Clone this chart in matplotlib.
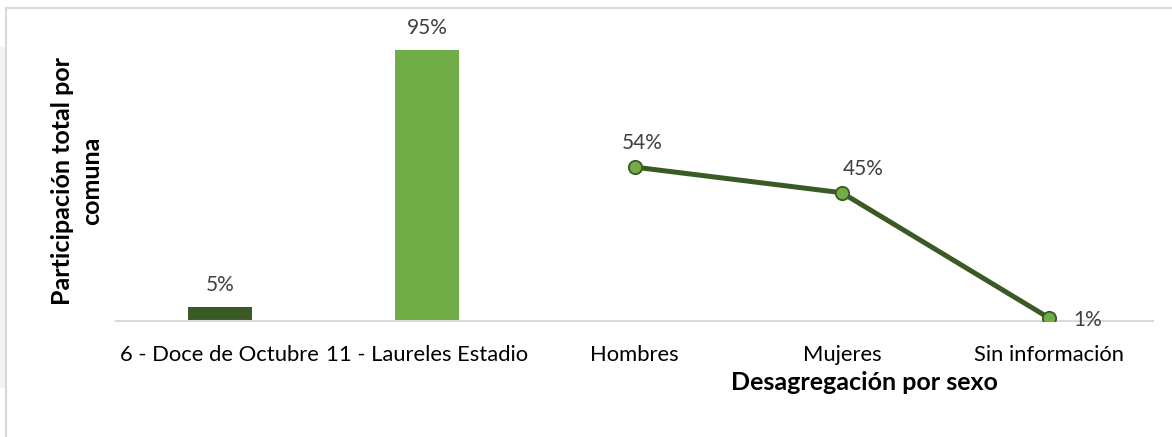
import matplotlib.pyplot as plt
import matplotlib.patches as mpatches

categories = ["6 - Doce de Octubre", "11 - Laureles Estadio", "Hombres", "Mujeres", "Sin información"]
comuna_values = [5, 95]
sexo_values = [54, 45, 1]
bar_colors = ["#3a5a24", "#70ad47"]

plt.rcParams['font.family'] = ['Lato', 'DejaVu Sans']

W, H = 1172, 437
fig = plt.figure(figsize=(W / 100, H / 100), dpi=100)
ax = fig.add_axes([116 / W, 116 / H, (1153 - 116) / W, 285 / H])

# faint frame of the chart area (top and left only)
fig.add_artist(plt.Line2D([6 / W, 1], [1 - 8 / H, 1 - 8 / H], color="#d9d9d9", lw=1.5, transform=fig.transFigure))
fig.add_artist(plt.Line2D([6 / W, 6 / W], [0, 1 - 8 / H], color="#d9d9d9", lw=1.5, transform=fig.transFigure))
fig.add_artist(mpatches.Rectangle((0, 50 / H), 5 / W, 340 / H, color="#f3f3f3", transform=fig.transFigure))

x = list(range(len(categories)))
ax.bar(x[:2], comuna_values, width=0.31, color=bar_colors)
ax.plot(x[2:], sexo_values, color="#3a5a24", lw=3.6, marker="o", ms=9.6,
        markerfacecolor="#70ad47", markeredgecolor="#3a5a24", markeredgewidth=1.3, zorder=3)

lab = dict(color="#404040", fontsize=15)
for xi, v in zip(x[:2], comuna_values):
    ax.annotate(f"{v}%", (xi, v), xytext=(0, 12), textcoords="offset pixels", ha="center", va="bottom", **lab)
offsets = [(8, 14, "center", "bottom"), (21, 14, "center", "bottom"), (24, -2, "left", "center")]
for xi, v, (dx, dy, ha, va) in zip(x[2:], sexo_values, offsets):
    ax.annotate(f"{v}%", (xi, v), xytext=(dx, dy), textcoords="offset pixels", ha=ha, va=va, **lab)

ax.set_xlim(-0.5, 4.5)
ax.set_ylim(0, 100)
ax.set_xticks(x)
ax.set_xticklabels(categories, fontsize=15.8)
ax.tick_params(axis="x", length=0, pad=17)
ax.set_yticks([])
for s in ["top", "right", "left"]:
    ax.spines[s].set_visible(False)
ax.spines["bottom"].set_color("#d9d9d9")
ax.spines["bottom"].set_linewidth(1.5)

fig.text(77 / W, 1 - 181 / H, "Participación total por\ncomuna", rotation=90, ha="center", va="center",
         fontsize=18, fontweight="bold", linespacing=1.3)
fig.text(864 / W, 1 - 383 / H, "Desagregación por sexo", ha="center", va="center",
         fontsize=18, fontweight="bold")

fig.savefig("out.png", dpi=100)
